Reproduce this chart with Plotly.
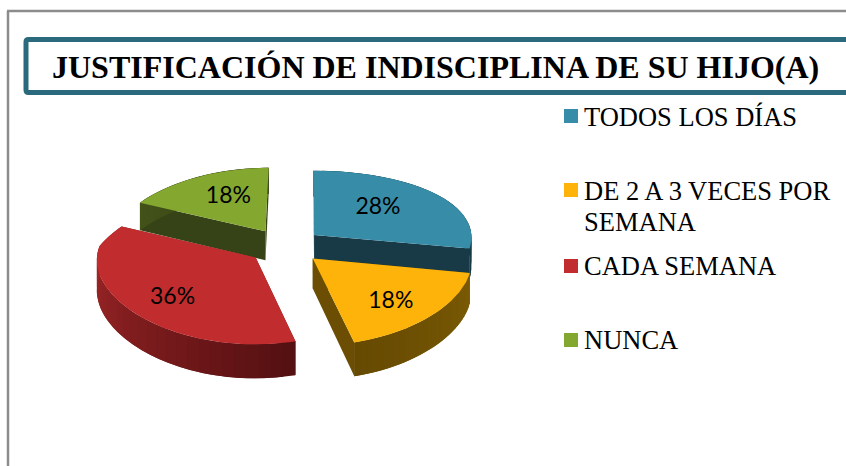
import numpy as np
import plotly.graph_objects as go

categories = ["TODOS LOS DÍAS", "DE 2 A 3 VECES POR<br>SEMANA", "CADA SEMANA", "NUNCA"]
values = [28, 18, 36, 18]
percent_labels = ["28%", "18%", "36%", "18%"]
title_text = "JUSTIFICACIÓN DE INDISCIPLINA DE SU HIJO(A)"

top_colors = ["#378DA8", "#FDB30A", "#C12D2E", "#83A72F"]
wall_colors = ["#173A46", "#6B4E03", "#6B1719", "#364316"]
wall_light = ["#1D4A59", "#7A5A05", "#AC2A2B", "#435219"]
wall_dark = ["#173A46", "#664A02", "#551012", "#364316"]

W, H = 846, 466
CX, CY, R, A, KY, DEPTH, EXPL = 285.0, 246.0, 158.0, 74.0, 0.115, 29.5, 0.24
KX_BACK, KX_FRONT = 0.2, 0.03


def project(u, v, drop=0.0):
    u = np.asarray(u, dtype=float)
    v = np.asarray(v, dtype=float)
    den = 1 + KY * v
    den_x = 1 + np.where((v > 0) & (u < 0), KX_BACK, KX_FRONT) * v
    return CX + R * u / den_x, CY - A * v / den + drop * DEPTH / den


def mix(c1, c2, t):
    a = [int(c1[i:i + 2], 16) for i in (1, 3, 5)]
    b = [int(c2[i:i + 2], 16) for i in (1, 3, 5)]
    return "rgb(%d,%d,%d)" % tuple(round(p + (q - p) * t) for p, q in zip(a, b))


fig = go.Figure()


def poly(xs, ys, color):
    xs, ys = list(xs), list(ys)
    fig.add_trace(go.Scatter(x=xs + [xs[0]], y=ys + [ys[0]], mode="lines", fill="toself",
                             fillcolor=color, line=dict(color=color, width=0),
                             hoverinfo="skip", showlegend=False))


total = sum(values)
edges = np.cumsum([0] + values) / total * 2 * np.pi
slices = []
for i in range(len(values)):
    a0, a1 = edges[i], edges[i + 1]
    mid = (a0 + a1) / 2
    slices.append((i, a0, a1, mid, EXPL * np.sin(mid), EXPL * np.cos(mid)))

# back slices first, front slices last
for i, a0, a1, mid, ou, ov in [slices[3], slices[0], slices[2], slices[1]]:
    th = np.linspace(a0, a1, 80)
    us, vs = ou + np.sin(th), ov + np.cos(th)
    # radial walls
    for e in (a0, a1):
        u_e, v_e = ou + np.sin(e), ov + np.cos(e)
        p = [project(ou, ov), project(u_e, v_e), project(u_e, v_e, 1), project(ou, ov, 1)]
        poly([float(q[0]) for q in p], [float(q[1]) for q in p], wall_colors[i])
    # outer wall, shaded along the arc; each band runs under the next one
    n = 30
    th2 = np.linspace(a0, a1, n + 1)
    for j in range(n):
        sub = np.linspace(th2[j], th2[min(j + 2, n)], 6)
        tx, ty = project(ou + np.sin(sub), ov + np.cos(sub))
        bx, by = project(ou + np.sin(sub), ov + np.cos(sub), 1)
        t = j / (n - 1)
        if i == 2:
            t = 1 - t
        poly(list(tx) + list(bx[::-1]), list(ty) + list(by[::-1]), mix(wall_light[i], wall_dark[i], t))
    # top face
    x, y = project(np.r_[ou, us], np.r_[ov, vs])
    poly(list(x), list(y), top_colors[i])

# percentage labels
label_r = 0.62
label_shift = [(-10, 0), (5, 10), (-6, 9), (7, 1)]
lx, ly = [], []
for (i, a0, a1, mid, ou, ov), (sx, sy) in zip(slices, label_shift):
    x, y = project(ou + label_r * np.sin(mid), ov + label_r * np.cos(mid))
    lx.append(float(x) + sx)
    ly.append(float(y) + sy)
fig.add_trace(go.Scatter(x=lx, y=ly, mode="text", text=percent_labels, textposition="middle center",
                         textfont=dict(family="Lato", size=23, color="#000000"),
                         hoverinfo="skip", showlegend=False))

# legend
legend_y = [116, 190, 266, 340]
legend_text_y = [[117], [191, 222], [266], [340]]
fig.add_trace(go.Scatter(x=[571] * 4, y=legend_y, mode="markers",
                         marker=dict(symbol="square", size=14, color=top_colors, line=dict(width=0)),
                         hoverinfo="skip", showlegend=False))
for name, ys in zip(categories, legend_text_y):
    for part, ty in zip(name.split("<br>"), ys):
        fig.add_annotation(x=582, y=ty, text=part, showarrow=False, xanchor="left", yanchor="middle", align="left",
                           font=dict(family="Liberation Serif", size=26.5, color="#000000"))

fig.add_annotation(x=435.5, y=67, text="<b>%s</b>" % title_text, showarrow=False, xanchor="center", yanchor="middle",
                   font=dict(family="Liberation Serif", size=32, color="#000000"))

shapes = [
    dict(type="line", x0=8, x1=8, y0=11, y1=470, line=dict(color="#8C8C8C", width=2.5)),
    dict(type="line", x0=7, x1=850, y0=11, y1=11, line=dict(color="#8C8C8C", width=2.5)),
    dict(type="path", path="M 28.5,39.5 L 849,39.5 L 849,92.5 L 28.5,92.5 Q 26,92.5 26,90 L 26,42 Q 26,39.5 28.5,39.5 Z",
         line=dict(color="#2A6A7C", width=5), fillcolor="#FFFFFF"),
]
fig.update_layout(
    width=W, height=H, margin=dict(l=0, r=0, t=0, b=0), paper_bgcolor="#FFFFFF", plot_bgcolor="#FFFFFF",
    xaxis=dict(range=[0, W], visible=False, fixedrange=True),
    yaxis=dict(range=[H, 0], visible=False, fixedrange=True),
    shapes=shapes, showlegend=False,
)
fig.write_html("out.html", config={"displayModeBar": False},
               post_script="document.body.style.margin='0';document.documentElement.style.overflow='hidden';")
